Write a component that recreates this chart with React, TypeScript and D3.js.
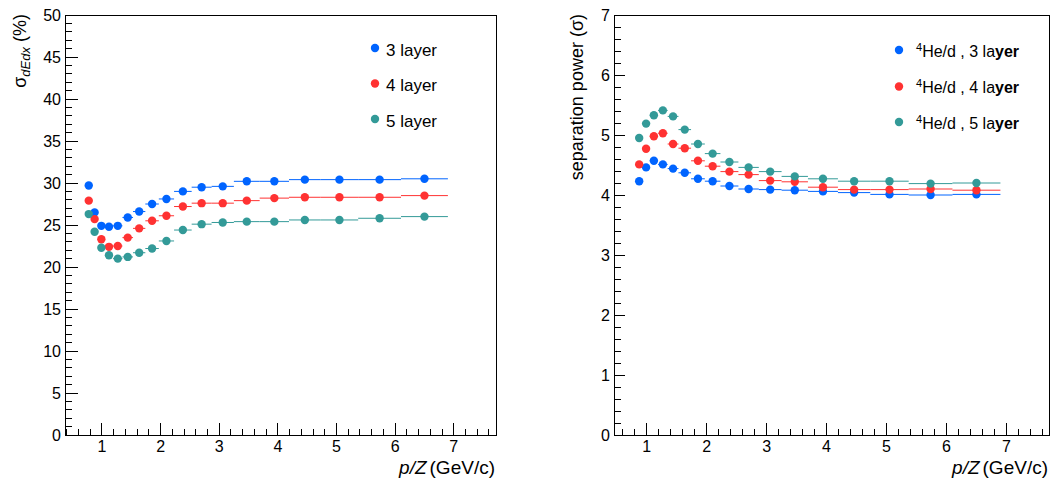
import React from 'react';
import * as d3 from 'd3';

// Bin edges in p/Z (GeV/c)
const binEdges = [0.73, 0.82, 0.93, 1.05, 1.19, 1.35, 1.53, 1.74, 1.97, 2.23, 2.53, 2.87, 3.25, 3.69, 4.19, 4.73, 5.37, 6.10, 6.90];

// Left panel: sigma_dEdx (%) per bin (18 bins)
const resolution3 = [29.7, 26.5, 24.9, 24.8, 24.9, 25.9, 26.6, 27.5, 28.1, 29.0, 29.5, 29.6, 30.2, 30.2, 30.4, 30.4, 30.4, 30.5];
const resolution4 = [27.9, 25.7, 23.3, 22.4, 22.5, 23.5, 24.6, 25.5, 26.1, 27.2, 27.6, 27.6, 27.9, 28.2, 28.3, 28.3, 28.3, 28.5];
const resolution5 = [26.3, 24.2, 22.3, 21.4, 21.0, 21.2, 21.7, 22.2, 23.1, 24.4, 25.1, 25.3, 25.4, 25.4, 25.6, 25.6, 25.8, 26.0];

// Right panel: separation power (sigma), starting at the 2nd bin (17 bins)
const separation3 = [4.23, 4.46, 4.57, 4.51, 4.44, 4.37, 4.27, 4.23, 4.15, 4.10, 4.09, 4.08, 4.06, 4.04, 4.01, 4.00, 4.01];
const separation4 = [4.51, 4.77, 4.98, 5.03, 4.85, 4.78, 4.57, 4.48, 4.39, 4.34, 4.24, 4.22, 4.13, 4.09, 4.09, 4.10, 4.08];
const separation5 = [4.95, 5.19, 5.33, 5.41, 5.31, 5.09, 4.85, 4.69, 4.55, 4.46, 4.39, 4.31, 4.27, 4.23, 4.23, 4.19, 4.20];
const separationStartBin = 1;

const leftLegend = ['3 layer', '4 layer', '5 layer'];
const rightLegendNumbers = ['3', '4', '5'];

const xTickValues = [1, 2, 3, 4, 5, 6, 7];
const leftYTicks = [0, 5, 10, 15, 20, 25, 30, 35, 40, 45, 50];
const rightYTicks = [0, 1, 2, 3, 4, 5, 6, 7];

const colors = ['#0064ff', '#ff3232', '#339a98'];
const FONT = "'Liberation Sans', Arial, Helvetica, sans-serif";

type Series = { values: number[]; start: number; color: string };

function Panel(props: {
  xDomain: [number, number];
  xRange: [number, number];
  yDomain: [number, number];
  yRange: [number, number];
  yTicks: number[];
  yMinorStep: number;
  yMajorLen: number;
  yMinorLen: number;
  series: Series[];
}) {
  const { xDomain, xRange, yDomain, yRange, yTicks, yMinorStep, yMajorLen, yMinorLen, series } = props;
  const x = d3.scaleLinear().domain(xDomain).range(xRange);
  const y = d3.scaleLinear().domain(yDomain).range(yRange);
  const [x0, x1] = xRange;
  const [yb, yt] = yRange;
  const xMinor = d3.range(0.2, xDomain[1], 0.2).filter((v) => v >= xDomain[0] && Math.abs(v - Math.round(v)) > 1e-6);
  const yMinor = d3.range(yDomain[0], yDomain[1] + 1e-9, yMinorStep).filter((v) => !yTicks.some((t) => Math.abs(t - v) < 1e-6));
  return (
    <g>
      {series.map((s, si) => (
        <g key={si}>
          {s.values.map((v, i) => (
            <line key={'e' + i} x1={x(binEdges[s.start + i])} x2={x(binEdges[s.start + i + 1])} y1={y(v)} y2={y(v)} stroke={s.color} strokeWidth={1} />
          ))}
        </g>
      ))}
      {series.map((s, si) => (
        <g key={'m' + si}>
          {s.values.map((v, i) => (
            <circle key={i} cx={x((binEdges[s.start + i] + binEdges[s.start + i + 1]) / 2)} cy={y(v)} r={4.2} fill={s.color} />
          ))}
        </g>
      ))}
      <g shapeRendering="crispEdges" stroke="#000" strokeWidth={1}>
        <rect x={x0} y={yt} width={x1 - x0} height={yb - yt} fill="none" />
        {xTickValues.map((t) => (
          <line key={'xt' + t} x1={x(t)} x2={x(t)} y1={yb} y2={yb - 12} />
        ))}
        {xMinor.map((t, i) => (
          <line key={'xm' + i} x1={x(t)} x2={x(t)} y1={yb} y2={yb - 6} />
        ))}
        {yTicks.map((t) => (
          <line key={'yt' + t} x1={x0} x2={x0 + yMajorLen} y1={y(t)} y2={y(t)} />
        ))}
        {yMinor.map((t, i) => (
          <line key={'ym' + i} x1={x0} x2={x0 + yMinorLen} y1={y(t)} y2={y(t)} />
        ))}
      </g>
      <g fontFamily={FONT} fontSize={16} fill="#000">
        {xTickValues.map((t) => (
          <text key={'xl' + t} x={x(t)} y={yb + 17} textAnchor="middle">{t}</text>
        ))}
        {yTicks.map((t) => (
          <text key={'yl' + t} x={x0 - 4} y={y(t) + 6} textAnchor="end">{t}</text>
        ))}
        <text x={x1 - 1} y={yb + 39} textAnchor="end" fontSize={19}>
          <tspan fontStyle="italic">p/Z</tspan>
          <tspan dx={3}>(GeV/c)</tspan>
        </text>
      </g>
    </g>
  );
}

export default function App() {
  const leftSeries: Series[] = [
    { values: resolution3, start: 0, color: colors[0] },
    { values: resolution4, start: 0, color: colors[1] },
    { values: resolution5, start: 0, color: colors[2] },
  ];
  const rightSeries: Series[] = [
    { values: separation3, start: separationStartBin, color: colors[0] },
    { values: separation4, start: separationStartBin, color: colors[1] },
    { values: separation5, start: separationStartBin, color: colors[2] },
  ];
  const leftLegendY = [48, 83.5, 119];
  const rightLegendY = [50, 86.5, 122];
  return (
    <svg width={1054} height={483} style={{ position: 'absolute', left: 0, top: 0, background: '#fff' }}>
      <rect x={0} y={0} width={1054} height={483} fill="#fff" />
      <Panel xDomain={[0.37, 7.72]} xRange={[65, 496]} yDomain={[0, 50]} yRange={[435, 15]} yTicks={leftYTicks} yMinorStep={1} yMajorLen={13} yMinorLen={7} series={leftSeries} />
      <Panel xDomain={[0.455, 7.71]} xRange={[614, 1049]} yDomain={[0, 7]} yRange={[435, 15]} yTicks={rightYTicks} yMinorStep={0.2} yMajorLen={11} yMinorLen={7} series={rightSeries} />

      {/* Y axis titles */}
      <text transform="translate(26,14) rotate(-90)" textAnchor="end" fontFamily={FONT} fontSize={18}>
        <tspan>σ</tspan>
        <tspan fontStyle="italic" fontSize={13} dy={4}>dEdx</tspan>
        <tspan dy={-4}> (%)</tspan>
      </text>
      <text transform="translate(583,14) rotate(-90)" textAnchor="end" fontFamily={FONT} fontSize={18}>
        separation power (σ)
      </text>

      {/* Left legend */}
      <g fontFamily={FONT} fontSize={17}>
        {leftLegend.map((l, i) => (
          <g key={l}>
            <circle cx={375} cy={leftLegendY[i]} r={4.2} fill={colors[i]} />
            <text x={386} y={leftLegendY[i] + 7.5}>{l}</text>
          </g>
        ))}
      </g>
      {/* Right legend */}
      <g fontFamily={FONT} fontSize={16}>
        {rightLegendNumbers.map((n, i) => (
          <g key={n}>
            <circle cx={899} cy={rightLegendY[i]} r={4.2} fill={colors[i]} />
            <text x={916} y={rightLegendY[i] + 6.8}>
              <tspan fontSize={11} dy={-6}>4</tspan>
              <tspan dy={6}>{`He/d , ${n} la`}</tspan>
              <tspan fontWeight="bold">yer</tspan>
            </text>
          </g>
        ))}
      </g>
    </svg>
  );
}
